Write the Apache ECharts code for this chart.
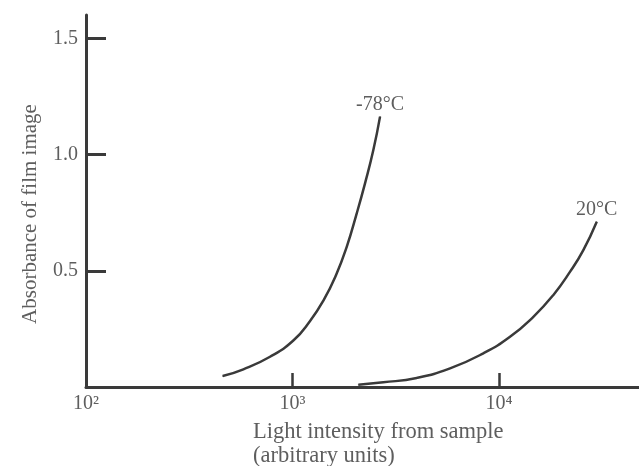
<!DOCTYPE html>
<html>
<head>
<meta charset="utf-8">
<script src="https://cdn.jsdelivr.net/npm/echarts@6/dist/echarts.min.js"></script>
<style>
  html, body { margin: 0; padding: 0; background: #fff; }
  #chart { width: 639px; height: 466px; }
</style>
</head>
<body>
<div id="chart"></div>
<script>
// light intensity (arbitrary units) vs absorbance
var coldName = '-78°C';
var coldX = [459, 578, 778, 1009, 1216, 1419, 1625, 1830, 2046, 2244, 2462, 2653];
var coldY = [0.047, 0.076, 0.130, 0.200, 0.284, 0.376, 0.482, 0.603, 0.747, 0.876, 1.019, 1.163];

var warmName = '20°C';
var warmX = [2083, 2752, 3993, 5791, 8395, 11300, 14660, 18330, 22080, 25590, 29720];
var warmY = [0.010, 0.020, 0.039, 0.080, 0.145, 0.216, 0.302, 0.396, 0.496, 0.589, 0.711];

var xTickValues = [100, 1000, 10000];
var xTickLabels = ['10²', '10³', '10⁴'];
var yTickValues = [0.5, 1.0, 1.5];

var font = '"Liberation Serif", "DejaVu Serif", serif';
var textColor = '#5e5e5e';
var lineColor = '#3a3a3a';

var buildData = function (xs, ys) {
    var data = [];
    for (var i = 0; i < xs.length; i++) {
        data.push([xs[i], ys[i]]);
    }
    var last = data.length - 1;
    data[last] = { value: data[last], label: { show: true } };
    return data;
};

var makeSeries = function (name, xs, ys) {
    return {
        name: name,
        type: 'line',
        smooth: 0.5,
        symbol: 'circle',
        symbolSize: 1,
        itemStyle: { color: lineColor },
        lineStyle: { color: lineColor, width: 2.5 },
        label: {
            show: false,
            position: 'top',
            distance: 1,
            formatter: name,
            fontFamily: font,
            fontSize: 20,
            color: textColor
        },
        data: buildData(xs, ys)
    };
};

var myChart = echarts.init(document.getElementById('chart'));
var option = {
    animation: false,
    backgroundColor: '#fff',
    grid: { left: 86, right: 0, top: 15, bottom: 79 },
    xAxis: {
        type: 'log',
        logBase: 10,
        min: 100,
        max: 47600,
        axisLine: { lineStyle: { color: lineColor, width: 3 } },
        axisTick: {
            inside: true,
            length: 14,
            customValues: [1000, 10000],
            lineStyle: { color: lineColor, width: 2.5 }
        },
        axisLabel: {
            customValues: xTickValues,
            margin: 7,
            fontFamily: font,
            fontSize: 20,
            color: textColor,
            formatter: function (v) {
                var idx = xTickValues.indexOf(Math.round(v));
                return idx >= 0 ? xTickLabels[idx] : '';
            }
        },
        splitLine: { show: false }
    },
    yAxis: {
        type: 'value',
        min: 0,
        max: 1.6,
        axisLine: { show: true, lineStyle: { color: lineColor, width: 3 } },
        axisTick: {
            show: true,
            inside: true,
            length: 20,
            customValues: yTickValues,
            lineStyle: { color: lineColor, width: 3 }
        },
        axisLabel: {
            customValues: yTickValues,
            margin: 8,
            fontFamily: font,
            fontSize: 20,
            color: textColor,
            formatter: function (v) { return v.toFixed(1); }
        },
        splitLine: { show: false }
    },
    graphic: [
        {
            type: 'text',
            x: 30,
            y: 214,
            rotation: Math.PI / 2,
            style: {
                text: 'Absorbance of film image',
                fontFamily: font,
                fontSize: 21,
                fill: textColor,
                align: 'center',
                verticalAlign: 'middle'
            }
        },
        {
            type: 'text',
            x: 253,
            y: 420,
            style: {
                text: 'Light intensity from sample\n(arbitrary units)',
                fontFamily: font,
                fontSize: 22.5,
                lineHeight: 24,
                fill: textColor,
                align: 'left',
                verticalAlign: 'top'
            }
        }
    ],
    series: [
        makeSeries(coldName, coldX, coldY),
        makeSeries(warmName, warmX, warmY)
    ]
};
myChart.setOption(option);
</script>
</body>
</html>
